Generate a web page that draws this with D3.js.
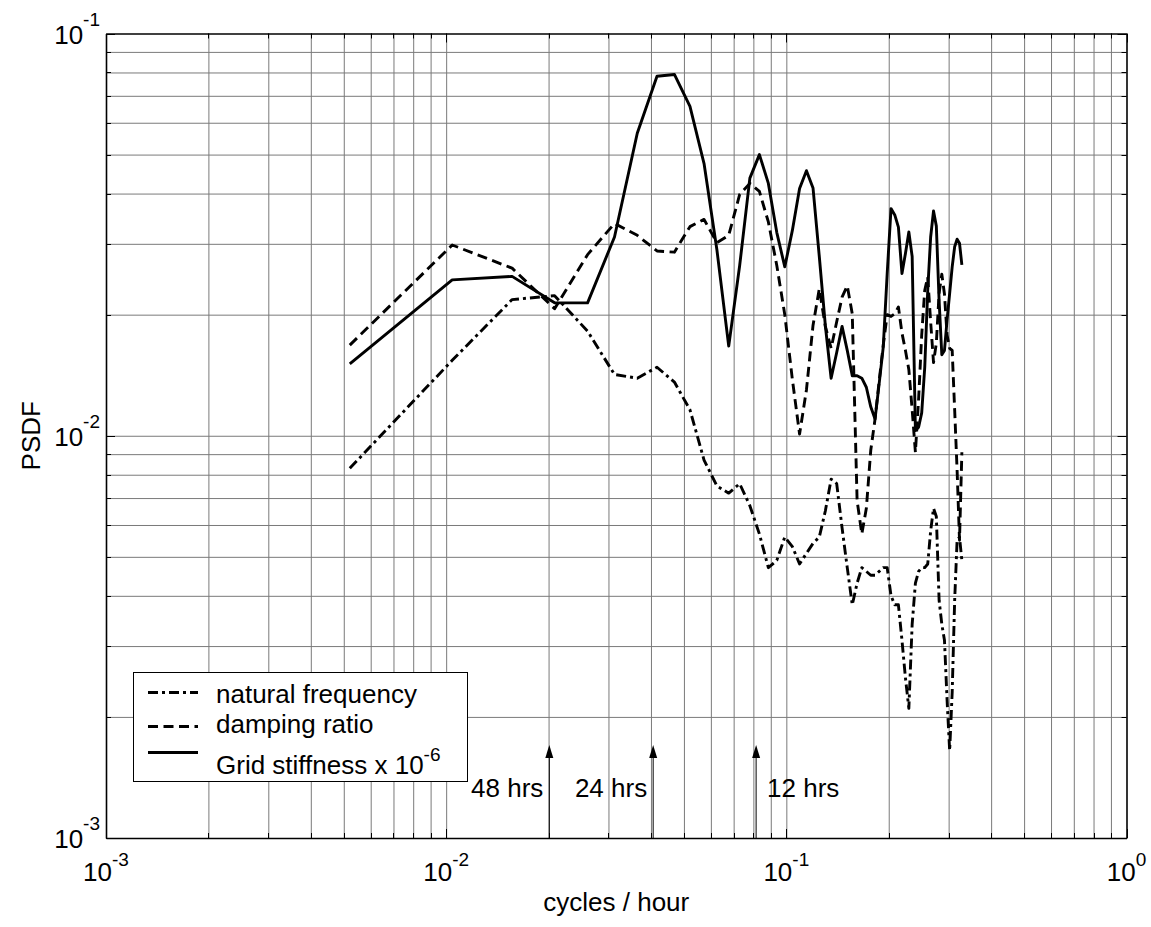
<!DOCTYPE html>
<html>
<head>
<meta charset="utf-8">
<script src="https://cdn.jsdelivr.net/npm/d3@7/dist/d3.min.js"></script>
<style>
  body { margin: 0; background: #fff; }
  svg { display: block; }
  text { font-family: "Liberation Sans", Arial, sans-serif; fill: #000; }
</style>
</head>
<body>
<svg id="chart" width="1151" height="927"></svg>
<script>
// Spectral frequencies (cycles / hour)
const freq = [
  0.005208, 0.010417, 0.015625, 0.020833, 0.026042, 0.03125, 0.036458, 0.041667,
  0.046875, 0.052083, 0.057292, 0.0625, 0.067708, 0.072917, 0.078125, 0.083333,
  0.088542, 0.09375, 0.098958, 0.104167, 0.109375, 0.114583, 0.119792, 0.125,
  0.130208, 0.135417, 0.140625, 0.145833, 0.151042, 0.15625, 0.161458, 0.166667,
  0.171875, 0.177083, 0.182292, 0.1875, 0.192708, 0.197917, 0.203125, 0.208333,
  0.213542, 0.21875, 0.223958, 0.229167, 0.234375, 0.239583, 0.244792, 0.25,
  0.255208, 0.260417, 0.265625, 0.270833, 0.276042, 0.28125, 0.286458, 0.291667,
  0.296875, 0.302083, 0.307292, 0.3125, 0.317708, 0.322917, 0.328125
];

// PSDF of the natural frequency
const naturalFrequency = [
  0.0083, 0.0154, 0.0218, 0.0223, 0.0182, 0.0142, 0.0139, 0.0148,
  0.0136, 0.0116, 0.0087, 0.0075, 0.0072, 0.0076, 0.0067, 0.0057,
  0.0047, 0.0049, 0.0056, 0.0053, 0.0048, 0.0051, 0.0054, 0.0056,
  0.0065, 0.0078, 0.0076, 0.0059, 0.0047, 0.0038, 0.0043, 0.0047,
  0.0046, 0.0045, 0.0045, 0.0046, 0.0047, 0.0047, 0.0040, 0.0038,
  0.0038, 0.0031, 0.0025, 0.0021, 0.0034, 0.0043, 0.0046, 0.0047,
  0.0047, 0.0048, 0.0058, 0.0066, 0.0063, 0.0039, 0.0034, 0.0031,
  0.0022, 0.00165, 0.0023, 0.0039, 0.0055, 0.0056, 0.0049
];

// PSDF of the damping ratio
const dampingRatio = [
  0.0168, 0.0298, 0.0261, 0.0207, 0.0282, 0.0337, 0.0315, 0.0288,
  0.0286, 0.0331, 0.0345, 0.0302, 0.0315, 0.0398, 0.0424, 0.0405,
  0.0340, 0.0265, 0.0200, 0.0138, 0.0101, 0.0130, 0.0188, 0.0232,
  0.0187, 0.0165, 0.0192, 0.0221, 0.0236, 0.0201, 0.0069, 0.0057,
  0.0066, 0.0092, 0.0110, 0.0137, 0.0168, 0.0200, 0.0198, 0.0201,
  0.0209, 0.0180, 0.0163, 0.0146, 0.0116, 0.0091, 0.0123, 0.0178,
  0.0230, 0.0248, 0.0192, 0.0152, 0.0170, 0.0226, 0.0252, 0.0225,
  0.0178, 0.0165, 0.0163, 0.0116, 0.0082, 0.0055, 0.0091
];

// PSDF of the grid stiffness (scaled by 1e-6)
const gridStiffness = [
  0.0151, 0.0244, 0.0249, 0.0214, 0.0214, 0.0312, 0.0565, 0.0783,
  0.0791, 0.0659, 0.0475, 0.0290, 0.0167, 0.0265, 0.0437, 0.0500,
  0.0424, 0.0320, 0.0263, 0.0324, 0.0412, 0.0456, 0.0413, 0.0279,
  0.0188, 0.0139, 0.0161, 0.0187, 0.0163, 0.0141, 0.0141, 0.0139,
  0.0132, 0.0118, 0.0110, 0.0135, 0.0166, 0.0253, 0.0367, 0.0354,
  0.0330, 0.0253, 0.0284, 0.0321, 0.0279, 0.0103, 0.0105, 0.0114,
  0.0148, 0.0230, 0.0312, 0.0362, 0.0332, 0.0217, 0.0159, 0.0163,
  0.0194, 0.0226, 0.0263, 0.0295, 0.0308, 0.0301, 0.0266
];

// Decade labels
const xTickExponents = [-3, -2, -1, 0];
const yTickExponents = [-3, -2, -1];

// Period markers
const periodLabels = ["48 hrs", "24 hrs", "12 hrs"];
const periodFreqs = [0.0201, 0.0406, 0.0815];
const periodLabelSide = ["left", "left", "right"];

// Legend entries
const legendLabels = ["natural frequency", "damping ratio", "Grid stiffness x 10"];

const svg = d3.select("#chart");
const L = 106, R = 1126.5, T = 33.5, B = 838;
const FS = 26, SUP = 19;

const x = d3.scaleLog().domain([1e-3, 1]).range([L, R]);
const y = d3.scaleLog().domain([1e-3, 1e-1]).range([B, T]);

function decadeSteps(lo, hi) {
  const v = [];
  for (let e = lo; e < hi; e++) for (let m = 1; m < 10; m++) v.push(+(m + "e" + e));
  v.push(+("1e" + hi));
  return v;
}
const xVals = decadeSteps(-3, 0);
const yVals = decadeSteps(-3, -1);
const isMajor = v => Math.abs(Math.log10(v) - Math.round(Math.log10(v))) < 1e-9;

// background
svg.append("rect").attr("x", 0).attr("y", 0).attr("width", 1151).attr("height", 927).attr("fill", "#fff");

// grid lines
const gridColor = "#7a7a7a";
svg.append("g")
  .attr("transform", `translate(0,${B})`)
  .call(d3.axisBottom(x).tickValues(xVals.slice(1, -1)).tickSize(-(B - T)).tickFormat(""))
  .call(g => {
    g.select(".domain").remove();
    g.selectAll(".tick line").attr("stroke", gridColor).attr("stroke-width", 1);
  });
svg.append("g")
  .attr("transform", `translate(${L},0)`)
  .call(d3.axisLeft(y).tickValues(yVals.slice(1, -1)).tickSize(-(R - L)).tickFormat(""))
  .call(g => {
    g.select(".domain").remove();
    g.selectAll(".tick line").attr("stroke", gridColor).attr("stroke-width", 1);
  });

// data lines
const series = [
  { values: naturalFrequency, dash: "10,4,3,4" },
  { values: dampingRatio, dash: "10,5.5" },
  { values: gridStiffness, dash: null }
];
const line = d3.line().x(d => x(d[0])).y(d => y(d[1]));
series.forEach(s => {
  svg.append("path")
    .datum(freq.map((f, i) => [f, s.values[i]]))
    .attr("d", line)
    .attr("fill", "none")
    .attr("stroke", "#000")
    .attr("stroke-width", 2.9)
    .attr("stroke-linejoin", "round")
    .attr("stroke-dasharray", s.dash);
});

// period arrows
const arrowTip = 745;
periodFreqs.forEach((f, i) => {
  const ax = x(f);
  svg.append("line")
    .attr("x1", ax).attr("x2", ax)
    .attr("y1", B).attr("y2", arrowTip + 10)
    .attr("stroke", "#000").attr("stroke-width", 1);
  svg.append("path")
    .attr("d", `M${ax},${arrowTip} L${ax - 4},${arrowTip + 13} L${ax + 4},${arrowTip + 13} Z`)
    .attr("fill", "#000");
  const left = periodLabelSide[i] === "left";
  svg.append("text")
    .attr("x", left ? ax - 6 : ax + 11)
    .attr("y", 797)
    .attr("text-anchor", left ? "end" : "start")
    .attr("font-size", FS)
    .text(periodLabels[i]);
});

// axis ticks on all four sides
function tickLen(v) { return isMajor(v) ? 9 : 5; }
const tickG = svg.append("g").attr("stroke", "#000").attr("stroke-width", 1);
xVals.forEach(v => {
  const px = Math.round(x(v)) + 0.5;
  tickG.append("line").attr("x1", px).attr("x2", px).attr("y1", B).attr("y2", B - tickLen(v));
  tickG.append("line").attr("x1", px).attr("x2", px).attr("y1", T).attr("y2", T + tickLen(v));
});
yVals.forEach(v => {
  const py = Math.round(y(v)) + 0.5;
  tickG.append("line").attr("x1", L).attr("x2", L + tickLen(v)).attr("y1", py).attr("y2", py);
  tickG.append("line").attr("x1", R).attr("x2", R - tickLen(v)).attr("y1", py).attr("y2", py);
});

// axes box
const frame = [
  [d3.axisBottom(x), `translate(0,${B})`],
  [d3.axisTop(x), `translate(0,${T})`],
  [d3.axisLeft(y), `translate(${L},0)`],
  [d3.axisRight(y), `translate(${R},0)`]
];
frame.forEach(([ax, tr]) => {
  svg.append("g")
    .attr("transform", tr)
    .call(ax.tickValues([]).tickSizeOuter(0))
    .call(g => g.select(".domain").attr("stroke", "#000").attr("stroke-width", 1.6));
});

// tick labels (powers of ten)
xTickExponents.forEach(e => {
  const t = svg.append("text")
    .attr("x", x(+("1e" + e)))
    .attr("y", 881)
    .attr("text-anchor", "middle")
    .attr("font-size", FS);
  t.append("tspan").text("10");
  t.append("tspan").attr("dy", -15).attr("font-size", SUP).text(e);
});
yTickExponents.forEach(e => {
  const py = y(+("1e" + e));
  const t = svg.append("text")
    .attr("x", 100)
    .attr("y", py + 10)
    .attr("text-anchor", "end")
    .attr("font-size", FS);
  t.append("tspan").text("10");
  t.append("tspan").attr("dy", -18).attr("font-size", SUP).text(e);
});

// axis titles
svg.append("text")
  .attr("x", (L + R) / 2).attr("y", 911)
  .attr("text-anchor", "middle").attr("font-size", FS)
  .text("cycles / hour");
svg.append("text")
  .attr("transform", `translate(40,${(T + B) / 2}) rotate(-90)`)
  .attr("text-anchor", "middle").attr("font-size", FS)
  .text("PSDF");

// legend
const lg = svg.append("g");
lg.append("rect")
  .attr("x", 133.5).attr("y", 672.5).attr("width", 334).attr("height", 109)
  .attr("fill", "#fff").attr("stroke", "#000").attr("stroke-width", 1);
const rowSample = [692.5, 726.5, 752.5];
const rowText = [703, 733, 774];
series.forEach((s, i) => {
  lg.append("line")
    .attr("x1", 148).attr("x2", 198)
    .attr("y1", rowSample[i]).attr("y2", rowSample[i])
    .attr("stroke", "#000").attr("stroke-width", 2.9)
    .attr("stroke-dasharray", s.dash);
  const t = lg.append("text").attr("x", 216).attr("y", rowText[i]).attr("font-size", FS);
  t.append("tspan").text(legendLabels[i]);
  if (i === 2) t.append("tspan").attr("dy", -13).attr("font-size", SUP).text("-6");
});
</script>
</body>
</html>
